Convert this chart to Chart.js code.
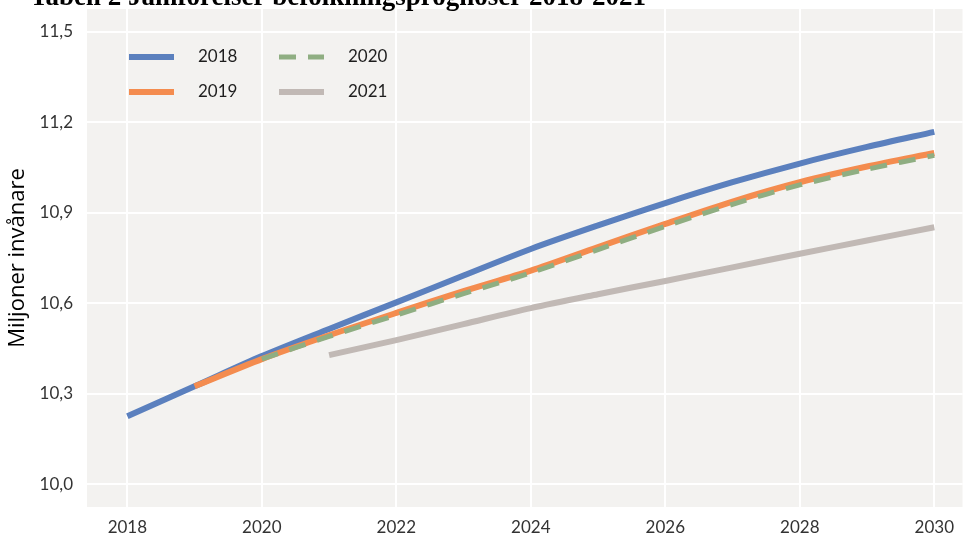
<!DOCTYPE html>
<html lang="sv">
<head>
<meta charset="utf-8">
<title>Befolkningsprognoser</title>
<script src="https://cdn.jsdelivr.net/npm/chart.js@4/dist/chart.umd.min.js"></script>
<style>
  html, body { margin: 0; padding: 0; background: #ffffff; }
  #wrap { width: 964px; height: 538px; position: relative; }
</style>
</head>
<body>
<div id="wrap"><canvas id="chart" width="964" height="538"></canvas></div>
<script>
const titleText = "Tabell 2 Jämförelser befolkningsprognoser 2018-2021";
const yTitle = "Miljoner invånare";

const years = [2018, 2019, 2020, 2021, 2022, 2023, 2024, 2025, 2026, 2027, 2028, 2029, 2030];
const seriesNames = ["2018", "2019", "2020", "2021"];

// miljoner invånare per år, null = prognosen börjar senare
const prog2018 = [10.226, 10.325, 10.425, 10.515, 10.603, 10.692, 10.780, 10.858, 10.932, 11.001, 11.063, 11.118, 11.168];
const prog2019 = [null, 10.325, 10.415, 10.494, 10.568, 10.640, 10.708, 10.786, 10.863, 10.937, 11.001, 11.053, 11.098];
const prog2020 = [null, null, 10.415, 10.490, 10.561, 10.632, 10.701, 10.778, 10.855, 10.928, 10.992, 11.044, 11.090];
const prog2021 = [null, null, null, 10.428, 10.478, 10.531, 10.584, 10.630, 10.674, 10.719, 10.764, 10.808, 10.852];

const xTicks = [2018, 2020, 2022, 2024, 2026, 2028, 2030];
const yTicks = [10.0, 10.3, 10.6, 10.9, 11.2, 11.5];

const colors = ["#5b80be", "#f48c4f", "#8fae82", "#c1b9b5"];

function toPoints(values) {
  return years.map((yr, i) => ({ x: yr, y: values[i] }));
}

// bakgrund i ritytan
const panelBg = {
  id: "panelBg",
  beforeDraw(chart) {
    const { ctx, chartArea: a } = chart;
    ctx.save();
    ctx.fillStyle = "#f3f2f0";
    ctx.fillRect(a.left, a.top, a.right - a.left, a.bottom - a.top);
    ctx.restore();
  }
};

// rubrik (ligger delvis utanför bilden) och legend i två kolumner
const extras = {
  id: "extras",
  afterDatasetsDraw(chart) {
    const { ctx, chartArea: a } = chart;
    ctx.save();
    ctx.fillStyle = "#000";
    ctx.font = 'bold 27px "Liberation Serif", "Times New Roman", serif';
    ctx.textBaseline = "alphabetic";
    ctx.textAlign = "left";
    ctx.fillText(titleText, 30, 5);

    ctx.font = '17px Lato, sans-serif';
    ctx.textBaseline = "middle";
    chart.data.datasets.forEach((ds, i) => {
      const col = Math.floor(i / 2);
      const row = i % 2;
      const x0 = a.left + 42 + col * 150;
      const y0 = a.top + 48 + row * 35;
      ctx.strokeStyle = ds.borderColor;
      ctx.lineWidth = ds.borderWidth;
      ctx.setLineDash(ds.borderDash || []);
      ctx.beginPath();
      ctx.moveTo(x0, y0);
      ctx.lineTo(x0 + 45, y0);
      ctx.stroke();
      ctx.setLineDash([]);
      ctx.fillStyle = "#1e1e1e";
      ctx.fillText(ds.label, x0 + 69, y0);
    });
    ctx.restore();
  }
};

const datasets = [prog2018, prog2019, prog2020, prog2021].map((vals, i) => ({
  label: seriesNames[i],
  data: toPoints(vals),
  borderColor: colors[i],
  backgroundColor: colors[i],
  borderWidth: i === 2 ? 5 : 6,
  borderDash: i === 2 ? [17, 12] : [],
  borderCapStyle: "butt",
  pointRadius: 0,
  tension: 0.3,
  fill: false,
  order: 4 - i
}));

Chart.defaults.font.family = "Lato, sans-serif";
Chart.defaults.color = "#333";

new Chart(document.getElementById("chart"), {
  type: "line",
  data: { datasets: datasets },
  plugins: [panelBg, extras],
  options: {
    responsive: false,
    animation: false,
    layout: { padding: { top: 9, right: 0, bottom: 0, left: 5 } },
    plugins: {
      legend: { display: false },
      tooltip: { enabled: false }
    },
    scales: {
      x: {
        type: "linear",
        min: 2017.4,
        max: 2030.42,
        afterBuildTicks: (scale) => { scale.ticks = xTicks.map(v => ({ value: v })); },
        // Chart.js räknar tick-padding dubbelt, axelhöjden sätts direkt
        afterFit: (scale) => { scale.height = 31; },
        ticks: {
          font: { size: 17 },
          color: "#333",
          padding: 10,
          maxRotation: 0,
          callback: (v) => String(v)
        },
        grid: { color: "#ffffff", lineWidth: 2, drawTicks: false },
        border: { display: false }
      },
      y: {
        min: 9.925,
        max: 11.575,
        afterBuildTicks: (scale) => { scale.ticks = yTicks.map(v => ({ value: v })); },
        // etiketterna ligger inte vid kanterna, så ingen extra luft behövs upptill/nedtill
        afterFit: (scale) => {
          scale.paddingTop = 0;
          scale.paddingBottom = 0;
          scale.width = 82;
        },
        ticks: {
          font: { size: 17 },
          color: "#333",
          padding: 14,
          callback: (v) => v.toFixed(1).replace(".", ",")
        },
        grid: { color: "#ffffff", lineWidth: 2, drawTicks: false },
        border: { display: false },
        title: {
          display: true,
          text: yTitle,
          font: { family: '"Open Sans", sans-serif', size: 22 },
          color: "#000",
          padding: { top: 0, bottom: 4 }
        }
      }
    }
  }
});
</script>
</body>
</html>
